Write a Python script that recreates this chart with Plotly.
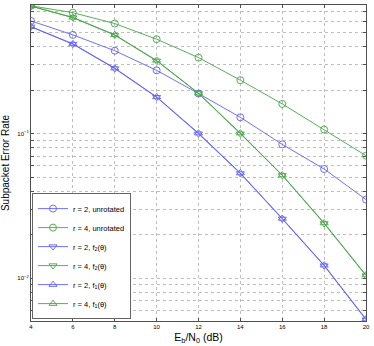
import plotly.graph_objects as go

snr_db = [4, 6, 8, 10, 12, 14, 16, 18, 20]

r2_unrot = [0.605, 0.484, 0.376, 0.275, 0.190, 0.130, 0.0844, 0.057, 0.035]
r4_unrot = [0.77, 0.69, 0.58, 0.452, 0.337, 0.235, 0.161, 0.107, 0.0705]
r2_f2 = [0.55, 0.418, 0.283, 0.179, 0.100, 0.053, 0.0257, 0.0122, 0.00515]
r4_f2 = [0.765, 0.637, 0.482, 0.320, 0.190, 0.100, 0.0515, 0.0239, 0.0104]
r2_f1 = [0.552, 0.420, 0.285, 0.180, 0.101, 0.0535, 0.0259, 0.0123, 0.0052]
r4_f1 = [0.768, 0.640, 0.485, 0.322, 0.191, 0.101, 0.0518, 0.0241, 0.0105]

names = ["r = 2, unrotated", "r = 4, unrotated",
         "r = 2, f<sub>2</sub>(θ)", "r = 4, f<sub>2</sub>(θ)",
         "r = 2, f<sub>1</sub>(θ)", "r = 4, f<sub>1</sub>(θ)"]
series = [r2_unrot, r4_unrot, r2_f2, r4_f2, r2_f1, r4_f1]

BLUE = "rgb(95,95,255)"
GREEN = "rgb(70,165,70)"
colors = [BLUE, GREEN, BLUE, GREEN, BLUE, GREEN]
symbols = ["circle-open", "circle-open", "triangle-down-open",
           "triangle-down-open", "triangle-up-open", "triangle-up-open"]

fig = go.Figure()
for i, (nm, ys) in enumerate(zip(names, series)):
    fig.add_trace(go.Scatter(
        x=snr_db, y=ys, name=nm, mode="lines+markers",
        line=dict(color=colors[i], width=0.9),
        marker=dict(symbol=symbols[i], size=7, color=colors[i],
                    line=dict(color=colors[i], width=0.9)),
    ))

yvals = []
ytext = []
for dec in [0.001, 0.01, 0.1]:
    for k in range(1, 10):
        v = round(dec * k, 6)
        yvals.append(v)
        if k == 1:
            exp = {0.001: "−3", 0.01: "−2", 0.1: "−1"}[dec]
            ytext.append(f"10<sup>{exp}</sup>")
        else:
            ytext.append("")

GRID = "rgb(190,190,190)"
fig.update_layout(
    width=374, height=346,
    margin=dict(l=28, r=7, t=4, b=25),
    paper_bgcolor="white", plot_bgcolor="white",
    font=dict(family="Liberation Sans, Arial, sans-serif", color="black"),
    showlegend=True,
    legend=dict(
        x=0.003, y=0.006, xanchor="left", yanchor="bottom",
        bgcolor="white", bordercolor="rgb(100,100,100)", borderwidth=1,
        font=dict(size=7.5), itemwidth=30,
    ),
    xaxis=dict(
        range=[4, 20], tickvals=snr_db, ticktext=[str(v) for v in snr_db],
        tickfont=dict(size=6), ticks="inside", ticklen=3,
        tickcolor="rgb(80,80,80)",
        showline=True, mirror="ticks", linecolor="rgb(80,80,80)", linewidth=1,
        showgrid=True, gridcolor=GRID, griddash="dot", gridwidth=1,
        zeroline=False,
        title=dict(text="E<sub>b</sub>/N<sub>0</sub> (dB)", font=dict(size=10.5),
                   standoff=4),
    ),
    yaxis=dict(
        type="log", range=[-2.297, -0.108],
        tickvals=yvals, ticktext=ytext,
        tickfont=dict(size=6), ticks="inside", ticklen=3,
        tickcolor="rgb(80,80,80)",
        showline=True, mirror="ticks", linecolor="rgb(80,80,80)", linewidth=1,
        showgrid=True, gridcolor=GRID, griddash="dot", gridwidth=1,
        zeroline=False,
        title=dict(text="Subpacket Error Rate", font=dict(size=10), standoff=6),
    ),
)

fig.write_html("out.html", config={"displayModeBar": False},
               post_script="document.body.style.margin='0';document.body.style.overflow='hidden';")
